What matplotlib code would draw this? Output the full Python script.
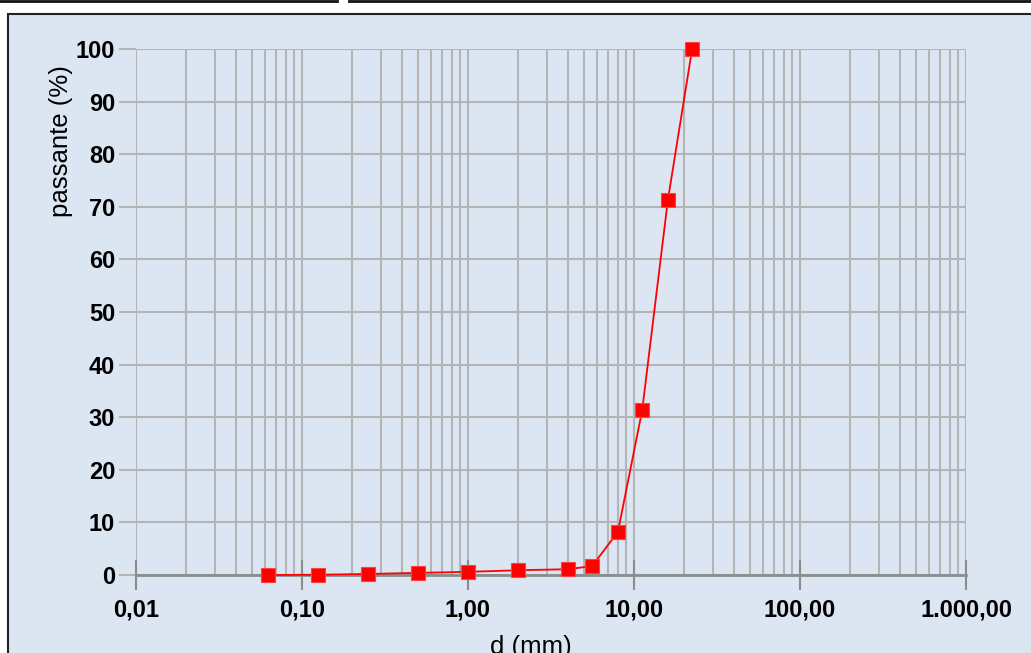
import matplotlib.pyplot as plt
from matplotlib.ticker import FixedLocator, LogLocator, NullFormatter
from matplotlib.lines import Line2D
from matplotlib.patches import Rectangle

plt.rcParams['font.family'] = ['Liberation Sans', 'DejaVu Sans']

# grain size distribution
d_mm = [0.0625, 0.125, 0.25, 0.5, 1.0, 2.0, 4.0, 5.6, 8.0, 11.2, 16.0, 22.4]
passante = [0.0, 0.05, 0.2, 0.4, 0.6, 0.9, 1.1, 1.7, 8.2, 31.3, 71.3, 100.0]

x_ticks = [0.01, 0.1, 1, 10, 100, 1000]
x_labels = ['0,01', '0,10', '1,00', '10,00', '100,00', '1.000,00']
y_ticks = list(range(0, 101, 10))

bg = '#dce6f2'
grid_c = '#b4b4b4'

fig = plt.figure(figsize=(10.31, 6.53), dpi=100)
fig.patch.set_facecolor('white')

# outer frame of the chart area
fig.add_artist(Rectangle((8 / 1031, -0.1), 1.2, 1 - 14 / 653 + 0.1,
                         transform=fig.transFigure, facecolor=bg,
                         edgecolor='#222222', linewidth=1.5, zorder=0))
fig.add_artist(Line2D([0, 337 / 1031], [0.999, 0.999], transform=fig.transFigure,
                      color='#111111', linewidth=2))
fig.add_artist(Line2D([349 / 1031, 1], [0.999, 0.999], transform=fig.transFigure,
                      color='#111111', linewidth=2))

ax = fig.add_axes([136 / 1031, 1 - 575 / 653, (966 - 136) / 1031, (575 - 49) / 653])
ax.set_facecolor(bg)
ax.patch.set_alpha(0)

ax.set_xscale('log')
ax.set_xlim(0.01, 1000)
ax.set_ylim(0, 100)

ax.xaxis.set_major_locator(FixedLocator(x_ticks))
ax.set_xticklabels(x_labels)
ax.xaxis.set_minor_locator(LogLocator(base=10, subs=range(2, 10), numticks=20))
ax.xaxis.set_minor_formatter(NullFormatter())
ax.set_yticks(y_ticks)

ax.grid(True, which='both', axis='x', color=grid_c, linewidth=1.5)
ax.grid(True, which='major', axis='y', color=grid_c, linewidth=1.5)
ax.set_axisbelow(True)

for s in ['top', 'right', 'left']:
    ax.spines[s].set_visible(False)
ax.spines['bottom'].set_color('#8c8c8c')
ax.spines['bottom'].set_linewidth(2)

ax.tick_params(axis='x', which='major', direction='inout', length=22, width=1.5,
               color='#8c8c8c', pad=6, labelsize=17)
ax.tick_params(axis='x', which='minor', length=0)
ax.tick_params(axis='y', which='major', direction='out', length=12, width=1.5,
               color=grid_c, pad=3, labelsize=17)
for lab in ax.get_xticklabels() + ax.get_yticklabels():
    lab.set_fontweight('bold')

ax.plot(d_mm, passante, color='#ff0000', linewidth=1.3, marker='s',
        markersize=10.5, markerfacecolor='#ff0000', markeredgecolor='#ff4040',
        markeredgewidth=0.8, clip_on=False, zorder=5)

ax.set_ylabel('passante (%)', fontsize=18.5)
ax.yaxis.set_label_coords(-0.076, 0.825)
ax.set_xlabel('d (mm)', fontsize=18.5, va='top')
ax.xaxis.set_label_coords(0.476, -0.114)

fig.savefig('out.png', dpi=100, facecolor=fig.get_facecolor())
